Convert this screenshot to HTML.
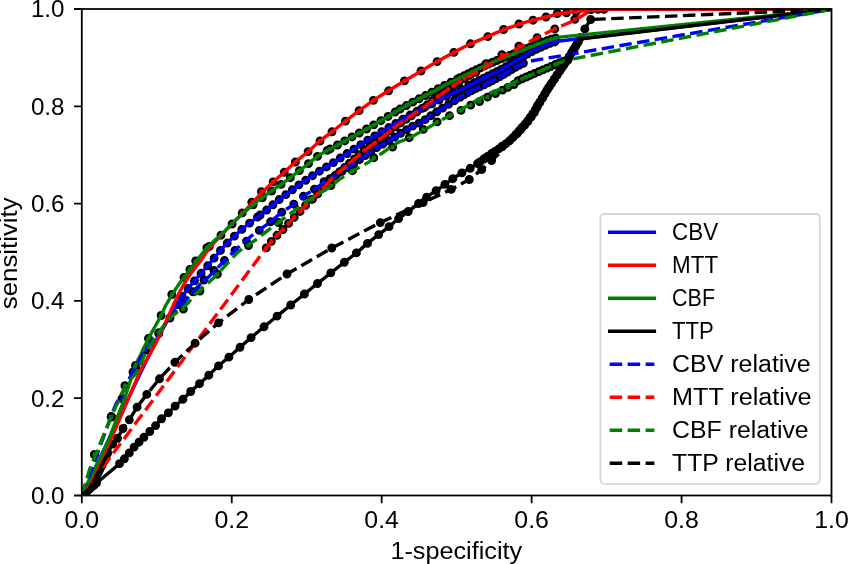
<!DOCTYPE html>
<html><head><meta charset="utf-8"><style>
html,body{margin:0;padding:0;background:#fff;overflow:hidden}
svg{display:block;font-family:"Liberation Sans",sans-serif;will-change:transform}
</style></head><body>
<svg width="848" height="564" viewBox="0 0 848 564">
<rect width="848" height="564" fill="#fff"/>
<defs><clipPath id="ax"><rect x="81.8" y="8.7" width="749.7" height="486.8"/></clipPath></defs>
<g clip-path="url(#ax)">
<g stroke="#000" stroke-width="2.22"><g fill="#0000ff"><circle cx="176.66" cy="304.91" r="3.34"/><circle cx="182.13" cy="296.54" r="3.34"/><circle cx="188.12" cy="288.53" r="3.34"/><circle cx="194.5" cy="280.83" r="3.34"/><circle cx="201.05" cy="273.28" r="3.34"/><circle cx="207.67" cy="265.78" r="3.34"/><circle cx="214.12" cy="258.14" r="3.34"/><circle cx="220.48" cy="250.43" r="3.34"/><circle cx="227.23" cy="243.05" r="3.34"/><circle cx="234.43" cy="236.11" r="3.34"/><circle cx="241.84" cy="229.4" r="3.34"/><circle cx="249.59" cy="223.08" r="3.34"/><circle cx="257.54" cy="217.01" r="3.34"/><circle cx="260.12" cy="215.04" r="3.34"/><circle cx="266.62" cy="210.04" r="3.34"/><circle cx="272.94" cy="204.82" r="3.34"/><circle cx="279.22" cy="199.55" r="3.34"/><circle cx="285.79" cy="194.64" r="3.34"/><circle cx="292.37" cy="189.75" r="3.34"/><circle cx="298.95" cy="184.86" r="3.34"/><circle cx="305.74" cy="180.27" r="3.34"/><circle cx="312.55" cy="175.69" r="3.34"/><circle cx="319.43" cy="171.22" r="3.34"/><circle cx="326.43" cy="166.96" r="3.34"/><circle cx="333.36" cy="162.58" r="3.34"/><circle cx="340.21" cy="158.07" r="3.34"/><circle cx="347.06" cy="153.57" r="3.34"/><circle cx="353.94" cy="149.11" r="3.34"/><circle cx="360.83" cy="144.66" r="3.34"/><circle cx="367.74" cy="140.24" r="3.34"/><circle cx="374.74" cy="135.97" r="3.34"/><circle cx="381.77" cy="131.74" r="3.34"/><circle cx="388.82" cy="127.56" r="3.34"/><circle cx="395.85" cy="123.35" r="3.34"/><circle cx="402.9" cy="119.16" r="3.34"/><circle cx="410.01" cy="115.06" r="3.34"/><circle cx="417.22" cy="111.16" r="3.34"/><circle cx="424.52" cy="107.43" r="3.34"/><circle cx="431.86" cy="103.77" r="3.34"/><circle cx="439.15" cy="100.03" r="3.34"/><circle cx="446.52" cy="96.42" r="3.34"/><circle cx="453.89" cy="92.84" r="3.34"/><circle cx="461.27" cy="89.25" r="3.34"/><circle cx="468.64" cy="85.66" r="3.34"/><circle cx="470.21" cy="84.89" r="3.34"/><circle cx="474.69" cy="82.67" r="3.34"/><circle cx="479.16" cy="80.42" r="3.34"/><circle cx="483.64" cy="78.2" r="3.34"/><circle cx="488.12" cy="75.98" r="3.34"/><circle cx="492.59" cy="73.75" r="3.34"/><circle cx="497.06" cy="71.51" r="3.34"/><circle cx="501.5" cy="69.21" r="3.34"/><circle cx="505.88" cy="66.79" r="3.34"/><circle cx="510.21" cy="64.29" r="3.34"/><circle cx="514.52" cy="61.77" r="3.34"/><circle cx="518.82" cy="59.21" r="3.34"/><circle cx="523.12" cy="56.65" r="3.34"/><circle cx="527.37" cy="54.02" r="3.34"/><circle cx="531.74" cy="51.59" r="3.34"/><circle cx="536.23" cy="49.39" r="3.34"/><circle cx="540.76" cy="47.28" r="3.34"/><circle cx="545.33" cy="45.25" r="3.34"/><circle cx="549.97" cy="43.4" r="3.34"/><circle cx="554.75" cy="41.93" r="3.34"/></g><g fill="#ff0000"><circle cx="209.3" cy="246.4" r="3.34"/><circle cx="221" cy="235.2" r="3.34"/><circle cx="232.1" cy="224" r="3.34"/><circle cx="242.2" cy="212.9" r="3.34"/><circle cx="251.8" cy="202.2" r="3.34"/><circle cx="261.4" cy="191.6" r="3.34"/><circle cx="273.1" cy="181.9" r="3.34"/><circle cx="284.2" cy="172.3" r="3.34"/><circle cx="295.4" cy="162" r="3.34"/><circle cx="308.1" cy="151.6" r="3.34"/><circle cx="320" cy="141" r="3.34"/><circle cx="332" cy="131.8" r="3.34"/><circle cx="345.5" cy="121.1" r="3.34"/><circle cx="359.1" cy="110.7" r="3.34"/><circle cx="373.4" cy="100.4" r="3.34"/><circle cx="388.6" cy="90.8" r="3.34"/><circle cx="404.4" cy="80.9" r="3.34"/><circle cx="421" cy="71" r="3.34"/><circle cx="437.1" cy="61.6" r="3.34"/><circle cx="453.9" cy="52.4" r="3.34"/><circle cx="470.5" cy="43.8" r="3.34"/><circle cx="487.8" cy="36.6" r="3.34"/><circle cx="503.6" cy="29.5" r="3.34"/><circle cx="519" cy="24" r="3.34"/><circle cx="533" cy="20.2" r="3.34"/><circle cx="546" cy="17" r="3.34"/><circle cx="557.3" cy="13.5" r="3.34"/><circle cx="566.5" cy="12.8" r="3.34"/><circle cx="576.2" cy="11.8" r="3.34"/><circle cx="591" cy="9.5" r="3.34"/><circle cx="598" cy="9.3" r="3.34"/><circle cx="604" cy="9.3" r="3.34"/></g><g fill="#008000"><circle cx="111.6" cy="417" r="3.34"/><circle cx="124.9" cy="385.7" r="3.34"/><circle cx="135.5" cy="365.5" r="3.34"/><circle cx="148.5" cy="338.5" r="3.34"/><circle cx="161.1" cy="315.5" r="3.34"/><circle cx="171.8" cy="294.5" r="3.34"/><circle cx="184" cy="277.4" r="3.34"/><circle cx="189.9" cy="269.5" r="3.34"/><circle cx="195.7" cy="261" r="3.34"/><circle cx="206.9" cy="247.7" r="3.34"/><circle cx="253.12" cy="204.74" r="3.34"/><circle cx="262.27" cy="197.77" r="3.34"/><circle cx="271.6" cy="191.05" r="3.34"/><circle cx="280.99" cy="184.41" r="3.34"/><circle cx="290.32" cy="177.68" r="3.34"/><circle cx="299.37" cy="170.6" r="3.34"/><circle cx="308.5" cy="163.61" r="3.34"/><circle cx="317.47" cy="156.41" r="3.34"/><circle cx="327.26" cy="150.41" r="3.34"/><circle cx="330.14" cy="148.9" r="3.34"/><circle cx="337.46" cy="144.99" r="3.34"/><circle cx="344.72" cy="140.97" r="3.34"/><circle cx="351.99" cy="136.95" r="3.34"/><circle cx="359.28" cy="132.99" r="3.34"/><circle cx="366.55" cy="128.99" r="3.34"/><circle cx="373.77" cy="124.9" r="3.34"/><circle cx="380.94" cy="120.72" r="3.34"/><circle cx="388.05" cy="116.43" r="3.34"/><circle cx="395.1" cy="112.05" r="3.34"/><circle cx="400.07" cy="109.06" r="3.34"/><circle cx="406.35" cy="105.54" r="3.34"/><circle cx="412.7" cy="102.14" r="3.34"/><circle cx="419.08" cy="98.8" r="3.34"/><circle cx="425.5" cy="95.55" r="3.34"/><circle cx="431.87" cy="92.2" r="3.34"/><circle cx="438.2" cy="88.76" r="3.34"/><circle cx="444.58" cy="85.43" r="3.34"/><circle cx="451.01" cy="82.18" r="3.34"/><circle cx="457.45" cy="78.97" r="3.34"/><circle cx="460.1" cy="77.67" r="3.34"/><circle cx="464.14" cy="75.68" r="3.34"/><circle cx="468.18" cy="73.71" r="3.34"/><circle cx="472.23" cy="71.75" r="3.34"/><circle cx="476.29" cy="69.8" r="3.34"/><circle cx="480.35" cy="67.86" r="3.34"/><circle cx="484.41" cy="65.93" r="3.34"/><circle cx="488.5" cy="64.05" r="3.34"/><circle cx="492.62" cy="62.24" r="3.34"/><circle cx="496.79" cy="60.54" r="3.34"/><circle cx="500.97" cy="58.87" r="3.34"/><circle cx="505.14" cy="57.19" r="3.34"/><circle cx="509.32" cy="55.52" r="3.34"/><circle cx="513.49" cy="53.83" r="3.34"/><circle cx="517.64" cy="52.1" r="3.34"/><circle cx="521.8" cy="50.37" r="3.34"/><circle cx="525.97" cy="48.69" r="3.34"/><circle cx="530.17" cy="47.06" r="3.34"/><circle cx="534.37" cy="45.45" r="3.34"/><circle cx="538.57" cy="43.84" r="3.34"/><circle cx="542.78" cy="42.25" r="3.34"/><circle cx="547" cy="40.69" r="3.34"/><circle cx="551.26" cy="39.24" r="3.34"/><circle cx="555.56" cy="37.92" r="3.34"/></g><g fill="#000000"><circle cx="119.5" cy="463.7" r="3.34"/><circle cx="124.4" cy="458.8" r="3.34"/><circle cx="129.3" cy="452.9" r="3.34"/><circle cx="134.1" cy="447.1" r="3.34"/><circle cx="139" cy="442.2" r="3.34"/><circle cx="143.9" cy="437.3" r="3.34"/><circle cx="149.8" cy="431.5" r="3.34"/><circle cx="155.6" cy="425.6" r="3.34"/><circle cx="161.5" cy="418.8" r="3.34"/><circle cx="168.3" cy="412.9" r="3.34"/><circle cx="175.1" cy="406.1" r="3.34"/><circle cx="182.9" cy="399.3" r="3.34"/><circle cx="190.7" cy="391.5" r="3.34"/><circle cx="199.5" cy="383.7" r="3.34"/><circle cx="208.8" cy="375.2" r="3.34"/><circle cx="218.5" cy="365.9" r="3.34"/><circle cx="228.9" cy="357.1" r="3.34"/><circle cx="240" cy="347.3" r="3.34"/><circle cx="251.1" cy="337.6" r="3.34"/><circle cx="264" cy="326.8" r="3.34"/><circle cx="277.1" cy="316.1" r="3.34"/><circle cx="290.7" cy="305" r="3.34"/><circle cx="304.4" cy="294" r="3.34"/><circle cx="317.5" cy="283.5" r="3.34"/><circle cx="330.8" cy="272.9" r="3.34"/><circle cx="344.3" cy="262.3" r="3.34"/><circle cx="356.4" cy="252.9" r="3.34"/><circle cx="367.5" cy="243.4" r="3.34"/><circle cx="378.7" cy="234.6" r="3.34"/><circle cx="389.1" cy="226.6" r="3.34"/><circle cx="398.6" cy="218.6" r="3.34"/><circle cx="408.2" cy="211.5" r="3.34"/><circle cx="418.6" cy="203.5" r="3.34"/><circle cx="426.6" cy="197.1" r="3.34"/><circle cx="436.1" cy="190.7" r="3.34"/><circle cx="444.9" cy="184.4" r="3.34"/><circle cx="452.8" cy="178.7" r="3.34"/><circle cx="461.9" cy="172.9" r="3.34"/><circle cx="470.2" cy="168.3" r="3.34"/><circle cx="477.6" cy="163.5" r="3.34"/><circle cx="485" cy="158.2" r="3.34"/><circle cx="492" cy="153.5" r="3.34"/><circle cx="502" cy="146.5" r="3.34"/><circle cx="480.2" cy="161.66" r="3.34"/><circle cx="483.85" cy="159.02" r="3.34"/><circle cx="487.56" cy="156.47" r="3.34"/><circle cx="491.3" cy="153.97" r="3.34"/><circle cx="495.01" cy="151.43" r="3.34"/><circle cx="498.71" cy="148.86" r="3.34"/><circle cx="502.36" cy="146.24" r="3.34"/><circle cx="506" cy="143.58" r="3.34"/><circle cx="509.52" cy="140.79" r="3.34"/><circle cx="512.81" cy="137.72" r="3.34"/><circle cx="515.88" cy="134.44" r="3.34"/><circle cx="518.87" cy="131.07" r="3.34"/><circle cx="521.86" cy="127.71" r="3.34"/><circle cx="524.81" cy="124.31" r="3.34"/><circle cx="527.64" cy="120.81" r="3.34"/><circle cx="530.3" cy="117.18" r="3.34"/><circle cx="532.86" cy="113.48" r="3.34"/><circle cx="535.29" cy="109.69" r="3.34"/><circle cx="537.38" cy="105.71" r="3.34"/><circle cx="539.88" cy="101.97" r="3.34"/><circle cx="542.29" cy="98.17" r="3.34"/><circle cx="544.55" cy="94.28" r="3.34"/><circle cx="546.85" cy="90.41" r="3.34"/><circle cx="549.3" cy="86.64" r="3.34"/><circle cx="551.83" cy="82.92" r="3.34"/><circle cx="554.34" cy="79.18" r="3.34"/><circle cx="556.82" cy="75.42" r="3.34"/><circle cx="559.29" cy="71.67" r="3.34"/><circle cx="561.81" cy="67.93" r="3.34"/><circle cx="564.36" cy="64.23" r="3.34"/><circle cx="566.87" cy="60.5" r="3.34"/><circle cx="569.24" cy="56.67" r="3.34"/><circle cx="571.53" cy="52.8" r="3.34"/><circle cx="573.88" cy="48.96" r="3.34"/><circle cx="576.22" cy="45.12" r="3.34"/><circle cx="578.46" cy="41.21" r="3.34"/><circle cx="85.05" cy="492.76" r="3.34"/><circle cx="87.34" cy="490.83" r="3.34"/><circle cx="89.63" cy="488.89" r="3.34"/><circle cx="91.93" cy="486.96" r="3.34"/><circle cx="94.22" cy="485.02" r="3.34"/><circle cx="96.51" cy="483.09" r="3.34"/></g><g fill="#0000ff"><circle cx="94.4" cy="454.6" r="3.34"/><circle cx="111.2" cy="416.7" r="3.34"/><circle cx="122" cy="398.7" r="3.34"/><circle cx="133" cy="372" r="3.34"/><circle cx="145.9" cy="350" r="3.34"/><circle cx="158.7" cy="333.5" r="3.34"/><circle cx="170" cy="318" r="3.34"/><circle cx="182.3" cy="303.5" r="3.34"/><circle cx="193" cy="291.8" r="3.34"/><circle cx="204" cy="280" r="3.34"/><circle cx="214" cy="270.5" r="3.34"/><circle cx="224.5" cy="260.5" r="3.34"/><circle cx="235" cy="250.5" r="3.34"/><circle cx="246.5" cy="241.1" r="3.34"/><circle cx="259.3" cy="230.4" r="3.34"/><circle cx="270.6" cy="221.8" r="3.34"/><circle cx="281.8" cy="212.2" r="3.34"/><circle cx="293.8" cy="204.2" r="3.34"/><circle cx="303.4" cy="196.3" r="3.34"/><circle cx="314.5" cy="189.1" r="3.34"/><circle cx="324.1" cy="181.6" r="3.34"/><circle cx="330.02" cy="178.63" r="3.34"/><circle cx="336.01" cy="175.02" r="3.34"/><circle cx="341.96" cy="171.33" r="3.34"/><circle cx="347.88" cy="167.59" r="3.34"/><circle cx="353.73" cy="163.75" r="3.34"/><circle cx="359.42" cy="159.68" r="3.34"/><circle cx="365.09" cy="155.57" r="3.34"/><circle cx="370.79" cy="151.51" r="3.34"/><circle cx="376.62" cy="147.63" r="3.34"/><circle cx="382.73" cy="144.21" r="3.34"/><circle cx="388.86" cy="140.84" r="3.34"/><circle cx="394.77" cy="137.09" r="3.34"/><circle cx="400.66" cy="133.3" r="3.34"/><circle cx="406.61" cy="129.62" r="3.34"/><circle cx="412.66" cy="126.11" r="3.34"/><circle cx="418.98" cy="123.09" r="3.34"/><circle cx="425.06" cy="119.65" r="3.34"/><circle cx="430.85" cy="115.71" r="3.34"/><circle cx="436.67" cy="111.82" r="3.34"/><circle cx="442.59" cy="108.08" r="3.34"/><circle cx="448.54" cy="104.4" r="3.34"/><circle cx="454.49" cy="100.71" r="3.34"/><circle cx="460.01" cy="97.29" r="3.34"/><circle cx="463.86" cy="94.95" r="3.34"/><circle cx="467.75" cy="92.69" r="3.34"/><circle cx="471.7" cy="90.54" r="3.34"/><circle cx="475.74" cy="88.56" r="3.34"/><circle cx="479.85" cy="86.72" r="3.34"/><circle cx="483.95" cy="84.87" r="3.34"/><circle cx="487.99" cy="82.88" r="3.34"/><circle cx="491.98" cy="80.81" r="3.34"/><circle cx="495.95" cy="78.69" r="3.34"/><circle cx="499.89" cy="76.52" r="3.34"/><circle cx="503.8" cy="74.29" r="3.34"/><circle cx="507.67" cy="71.99" r="3.34"/><circle cx="511.51" cy="69.65" r="3.34"/><circle cx="515.38" cy="67.35" r="3.34"/><circle cx="519.32" cy="65.18" r="3.34"/><circle cx="523.39" cy="63.27" r="3.34"/></g><g fill="#ff0000"><circle cx="486" cy="63.7" r="3.34"/><circle cx="501.9" cy="54.7" r="3.34"/><circle cx="518.9" cy="46.2" r="3.34"/><circle cx="537.1" cy="37.7" r="3.34"/><circle cx="554.8" cy="28.9" r="3.34"/><circle cx="574.8" cy="19.3" r="3.34"/><circle cx="266.27" cy="247.91" r="3.34"/><circle cx="271.32" cy="241.33" r="3.34"/><circle cx="277.03" cy="235.32" r="3.34"/><circle cx="282.95" cy="229.5" r="3.34"/><circle cx="288.57" cy="223.4" r="3.34"/><circle cx="294.21" cy="217.32" r="3.34"/><circle cx="300.05" cy="211.43" r="3.34"/><circle cx="305.64" cy="205.29" r="3.34"/><circle cx="311.46" cy="199.38" r="3.34"/><circle cx="317.74" cy="193.96" r="3.34"/><circle cx="323.44" cy="187.93" r="3.34"/><circle cx="328.93" cy="181.71" r="3.34"/><circle cx="330.1" cy="180.47" r="3.34"/><circle cx="334.77" cy="175.96" r="3.34"/><circle cx="339.69" cy="171.71" r="3.34"/><circle cx="344.62" cy="167.47" r="3.34"/><circle cx="349.52" cy="163.2" r="3.34"/><circle cx="354.43" cy="158.95" r="3.34"/><circle cx="359.37" cy="154.72" r="3.34"/><circle cx="364.36" cy="150.55" r="3.34"/><circle cx="369.56" cy="146.65" r="3.34"/><circle cx="374.86" cy="142.9" r="3.34"/><circle cx="380.01" cy="138.93" r="3.34"/><circle cx="385.12" cy="134.92" r="3.34"/><circle cx="390.16" cy="130.81" r="3.34"/><circle cx="395.23" cy="126.75" r="3.34"/><circle cx="400.52" cy="122.96" r="3.34"/><circle cx="405.96" cy="119.42" r="3.34"/><circle cx="411.37" cy="115.8" r="3.34"/><circle cx="416.63" cy="112" r="3.34"/><circle cx="422.05" cy="108.41" r="3.34"/><circle cx="427.42" cy="104.74" r="3.34"/><circle cx="432.58" cy="100.79" r="3.34"/><circle cx="437.69" cy="96.78" r="3.34"/><circle cx="442.91" cy="92.9" r="3.34"/><circle cx="448.26" cy="89.21" r="3.34"/><circle cx="453.63" cy="85.56" r="3.34"/><circle cx="459.06" cy="81.99" r="3.34"/><circle cx="464.57" cy="78.54" r="3.34"/><circle cx="470.2" cy="75.29" r="3.34"/><circle cx="475.96" cy="72.27" r="3.34"/></g><g fill="#008000"><circle cx="94.4" cy="454.6" r="3.34"/><circle cx="111.2" cy="416.7" r="3.34"/><circle cx="137.7" cy="370.9" r="3.34"/><circle cx="158.9" cy="332.6" r="3.34"/><circle cx="183.4" cy="309.1" r="3.34"/><circle cx="199.9" cy="291" r="3.34"/><circle cx="217.4" cy="274.2" r="3.34"/><circle cx="248.5" cy="245.5" r="3.34"/><circle cx="278.4" cy="222.5" r="3.34"/><circle cx="312.5" cy="199.1" r="3.34"/><circle cx="330.9" cy="185.6" r="3.34"/><circle cx="352.5" cy="170.7" r="3.34"/><circle cx="373.8" cy="157.7" r="3.34"/><circle cx="392.6" cy="147.1" r="3.34"/><circle cx="409.2" cy="137.7" r="3.34"/><circle cx="423.3" cy="129.4" r="3.34"/><circle cx="437.1" cy="121.9" r="3.34"/><circle cx="449.5" cy="115.7" r="3.34"/><circle cx="461" cy="110.4" r="3.34"/><circle cx="470.7" cy="105.1" r="3.34"/><circle cx="479.5" cy="101.6" r="3.34"/><circle cx="487.5" cy="97.1" r="3.34"/><circle cx="495.5" cy="93.6" r="3.34"/><circle cx="502.5" cy="90.1" r="3.34"/><circle cx="507.8" cy="87.4" r="3.34"/><circle cx="514" cy="84.5" r="3.34"/><circle cx="518.09" cy="80.61" r="3.34"/><circle cx="522.2" cy="78.78" r="3.34"/><circle cx="526.32" cy="76.98" r="3.34"/><circle cx="530.46" cy="75.2" r="3.34"/><circle cx="534.59" cy="73.43" r="3.34"/><circle cx="538.73" cy="71.67" r="3.34"/><circle cx="542.87" cy="69.9" r="3.34"/><circle cx="547.01" cy="68.14" r="3.34"/><circle cx="551.14" cy="66.34" r="3.34"/><circle cx="555.26" cy="64.53" r="3.34"/><circle cx="559.4" cy="62.78" r="3.34"/><circle cx="563.64" cy="61.26" r="3.34"/><circle cx="567.96" cy="60.01" r="3.34"/></g><g fill="#000000"><circle cx="89" cy="489" r="3.34"/><circle cx="95.5" cy="478" r="3.34"/><circle cx="101.5" cy="466" r="3.34"/><circle cx="107.8" cy="452.9" r="3.34"/><circle cx="112.7" cy="444.1" r="3.34"/><circle cx="117.6" cy="438.3" r="3.34"/><circle cx="123" cy="428.5" r="3.34"/><circle cx="129.3" cy="419.8" r="3.34"/><circle cx="137.1" cy="407.1" r="3.34"/><circle cx="146.8" cy="394.4" r="3.34"/><circle cx="159.5" cy="378.8" r="3.34"/><circle cx="174.9" cy="362.3" r="3.34"/><circle cx="195.1" cy="343.2" r="3.34"/><circle cx="218.5" cy="322.9" r="3.34"/><circle cx="248.8" cy="299.5" r="3.34"/><circle cx="287" cy="274" r="3.34"/><circle cx="331.8" cy="248" r="3.34"/><circle cx="380.3" cy="222.6" r="3.34"/><circle cx="423.1" cy="202.6" r="3.34"/><circle cx="451.2" cy="189.4" r="3.34"/><circle cx="469.3" cy="179.5" r="3.34"/><circle cx="481.7" cy="169.6" r="3.34"/><circle cx="491.6" cy="160.5" r="3.34"/><circle cx="584.8" cy="28.9" r="3.34"/><circle cx="590.7" cy="19.5" r="3.34"/><circle cx="84.03" cy="493.49" r="3.34"/><circle cx="85.66" cy="492.02" r="3.34"/><circle cx="87.29" cy="490.54" r="3.34"/><circle cx="88.93" cy="489.07" r="3.34"/><circle cx="90.07" cy="487.19" r="3.34"/><circle cx="91.19" cy="485.3" r="3.34"/><circle cx="92.31" cy="483.4" r="3.34"/><circle cx="93.43" cy="481.51" r="3.34"/><circle cx="94.55" cy="479.62" r="3.34"/><circle cx="95.64" cy="477.71" r="3.34"/><circle cx="96.63" cy="475.74" r="3.34"/><circle cx="97.61" cy="473.78" r="3.34"/><circle cx="98.6" cy="471.81" r="3.34"/><circle cx="99.58" cy="469.84" r="3.34"/><circle cx="100.56" cy="467.87" r="3.34"/><circle cx="101.55" cy="465.9" r="3.34"/><circle cx="102.5" cy="463.92" r="3.34"/><circle cx="103.45" cy="461.94" r="3.34"/><circle cx="104.41" cy="459.96" r="3.34"/><circle cx="105.36" cy="457.97" r="3.34"/><circle cx="106.31" cy="455.99" r="3.34"/><circle cx="517.14" cy="133.62" r="3.34"/><circle cx="520.81" cy="129.53" r="3.34"/><circle cx="524.46" cy="125.42" r="3.34"/><circle cx="528.04" cy="121.24" r="3.34"/><circle cx="531.26" cy="116.78" r="3.34"/><circle cx="534.47" cy="112.32" r="3.34"/><circle cx="536.98" cy="107.43" r="3.34"/><circle cx="539.74" cy="102.68" r="3.34"/><circle cx="542.56" cy="97.96" r="3.34"/><circle cx="545.25" cy="93.16" r="3.34"/><circle cx="548.03" cy="88.41" r="3.34"/><circle cx="551.09" cy="83.85" r="3.34"/><circle cx="554.15" cy="79.27" r="3.34"/><circle cx="557.18" cy="74.68" r="3.34"/><circle cx="560.21" cy="70.09" r="3.34"/><circle cx="563.29" cy="65.54" r="3.34"/><circle cx="566.39" cy="60.99" r="3.34"/><circle cx="569.39" cy="56.38" r="3.34"/><circle cx="572.34" cy="51.75" r="3.34"/><circle cx="575.18" cy="47.03" r="3.34"/><circle cx="577.92" cy="42.27" r="3.34"/><circle cx="580.51" cy="37.42" r="3.34"/></g></g>
<g fill="none" stroke-width="3.39" stroke-linejoin="round"><path d="M81.8 495.5 118.5 420 127.5 400 157.8 337.3 161.37 331.1 166.54 322.11 172.04 312.64 176.6 305 179.82 299.92 182.41 296.13 184.74 292.95 187.2 289.7 189.84 286.35 192.46 283.21 195.12 280.11 197.9 276.9 200.8 273.56 203.8 270.18 206.87 266.71 210 263.1 213.26 259.19 216.64 255.05 219.98 251.01 223.1 247.4 225.92 244.37 228.55 241.72 231.1 239.26 233.7 236.8 236.4 234.28 239.12 231.8 241.81 229.42 244.4 227.2 246.82 225.22 249.13 223.43 251.44 221.68 253.9 219.8 256.71 217.64 259.74 215.33 262.62 213.13 265 211.3 266.55 210.1 267.55 209.32 268.5 208.56 269.9 207.4 271.95 205.67 274.36 203.6 276.91 201.43 279.4 199.4 281.79 197.56 284.19 195.8 286.6 194.06 289 192.3 291.4 190.49 293.81 188.66 296.21 186.85 298.6 185.1 300.98 183.44 303.35 181.85 305.72 180.28 308.1 178.7 310.44 177.12 312.75 175.56 315.14 173.96 317.7 172.3 320.57 170.51 323.66 168.64 326.74 166.77 329.6 165 332.14 163.38 334.49 161.84 336.77 160.33 339.1 158.8 341.49 157.23 343.89 155.65 346.3 154.07 348.7 152.5 351.1 150.94 353.51 149.39 355.91 147.84 358.3 146.3 360.62 144.8 362.89 143.33 365.24 141.81 367.8 140.2 370.7 138.42 373.83 136.51 377 134.6 380 132.8 382.76 131.15 385.39 129.59 387.98 128.06 390.6 126.5 393.27 124.9 395.95 123.29 398.63 121.68 401.3 120.1 403.95 118.54 406.6 117 409.25 115.48 411.9 114 414.57 112.56 417.25 111.15 419.93 109.77 422.6 108.4 425.35 107.01 428.14 105.62 430.82 104.29 433.2 103.1 434.98 102.19 436.32 101.47 437.81 100.7 440 99.6 443.17 98.04 446.99 96.19 451.06 94.21 455 92.3 458.85 90.43 462.78 88.53 466.56 86.68 470 85 472.96 83.53 475.57 82.22 478.05 80.98 480.6 79.7 483.27 78.38 485.95 77.06 488.63 75.73 491.3 74.4 493.95 73.07 496.6 71.75 499.25 70.4 501.9 69 504.57 67.53 507.25 66.01 509.93 64.46 512.6 62.9 515.3 61.31 518.03 59.69 520.69 58.1 523.2 56.6 525.34 55.29 527.22 54.11 529.26 52.9 531.9 51.5 535.52 49.73 539.79 47.72 544.1 45.77 547.8 44.2 550.87 43.08 553.59 42.24 555.82 41.64 557.4 41.2 831.5 9.3" stroke="#0000ff" stroke-linecap="square"/><path d="M81.8 495.5 96 470 98.74 464.38 102.71 456.25 106.94 447.5 110.5 440 113.08 434.3 115.21 429.38 117.16 424.77 119.2 420 121.28 415.22 123.31 410.59 125.45 405.67 127.9 400 130.87 392.95 134.21 384.93 137.54 377.07 140.5 370.5 142.88 365.89 144.91 362.51 146.88 359.4 149.1 355.6 151.6 351 154.25 346.08 157.05 340.68 160 334.7 163.31 327.56 166.91 319.5 170.41 311.62 173.4 305 175.72 300.05 177.59 296.16 179.25 292.86 180.9 289.7 182.53 286.7 184.05 284.06 185.57 281.56 187.2 279 188.99 276.32 190.88 273.63 192.8 270.98 194.7 268.4 196.57 265.95 198.44 263.58 200.29 261.23 202.1 258.8 203.74 256.34 205.26 253.86 206.93 251.28 209 248.5 211.66 245.4 214.74 242.07 217.95 238.71 221 235.5 223.82 232.51 226.56 229.64 229.27 226.83 232 224 234.79 221.14 237.59 218.27 240.36 215.44 243 212.7 245.47 210.07 247.81 207.54 250.12 205.03 252.5 202.5 254.95 199.93 257.43 197.36 259.95 194.78 262.5 192.2 265.1 189.61 267.73 187.01 270.4 184.43 273.1 181.9 275.84 179.47 278.61 177.1 281.41 174.73 284.2 172.3 286.96 169.78 289.7 167.2 292.49 164.6 295.4 162 298.49 159.41 301.71 156.82 304.95 154.22 308.1 151.6 311.13 148.93 314.09 146.22 317.04 143.56 320 141 322.96 138.64 325.9 136.41 328.89 134.17 332 131.8 335.27 129.22 338.65 126.53 342.08 123.79 345.5 121.1 348.88 118.48 352.25 115.87 355.65 113.29 359.1 110.7 362.6 108.11 366.14 105.51 369.73 102.94 373.4 100.4 377.17 97.91 381.02 95.46 384.91 93.03 388.8 90.6 392.66 88.17 396.51 85.75 400.41 83.33 404.4 80.9 408.54 78.45 412.78 75.99 417.04 73.54 421.2 71.1 425.22 68.67 429.15 66.26 433.08 63.86 437.1 61.5 441.22 59.19 445.4 56.91 449.63 54.65 453.9 52.4 458.25 50.11 462.67 47.81 467.09 45.58 471.4 43.5 475.68 41.6 479.93 39.83 484.02 38.17 487.8 36.6 491.02 35.17 493.83 33.87 496.68 32.59 500 31.2 504.07 29.62 508.61 27.93 513.21 26.28 517.5 24.8 521.36 23.55 524.99 22.46 528.51 21.46 532 20.5 535.51 19.6 538.99 18.77 542.37 17.98 545.6 17.2 548.67 16.4 551.61 15.6 554.41 14.85 557.1 14.2 559.59 13.66 561.91 13.22 564.19 12.84 566.6 12.5 569.2 12.22 571.91 12.01 574.61 11.81 577.2 11.6 579.63 11.35 581.98 11.09 584.28 10.84 586.6 10.6 588.89 10.38 591.14 10.17 593.47 9.97 596 9.8 599.1 9.64 602.59 9.5 605.78 9.38 608 9.3 831.5 9.3" stroke="#ff0000" stroke-linecap="square"/><path d="M81.8 495.5 94.2 470 96.88 464.38 100.76 456.25 104.88 447.5 108.3 440 110.71 434.3 112.64 429.38 114.38 424.77 116.2 420 118.21 414.93 120.24 409.81 122.2 404.79 124 400 125.57 395.55 126.97 391.34 128.32 387.21 129.7 383 131.14 378.54 132.58 373.97 134.03 369.54 135.5 365.5 136.96 362.07 138.43 359.06 139.92 356.15 141.5 353 143.24 349.38 145.09 345.5 146.9 341.75 148.5 338.5 149.74 336.09 150.74 334.25 151.77 332.41 153.1 330 154.93 326.7 157.08 322.88 159.24 318.98 161.1 315.5 162.41 312.76 163.39 310.43 164.45 308.02 166 305 168.3 301 171.07 296.38 173.96 291.71 176.6 287.6 178.85 284.3 180.91 281.46 182.95 278.77 185.1 275.9 187.45 272.73 189.9 269.44 192.35 266.18 194.7 263.1 196.95 260.2 199.15 257.41 201.25 254.79 203.2 252.4 204.83 250.39 206.22 248.68 207.7 246.98 209.6 245 212.09 242.66 214.97 240.12 218.01 237.44 221 234.7 223.9 231.85 226.83 228.88 229.77 225.89 232.7 223 235.65 220.22 238.62 217.49 241.55 214.84 244.4 212.3 247.14 209.87 249.81 207.54 252.42 205.32 255 203.2 257.5 201.26 259.91 199.47 262.37 197.69 265 195.8 267.89 193.71 270.95 191.51 274.04 189.31 277 187.2 279.82 185.22 282.58 183.31 285.24 181.45 287.8 179.6 290.2 177.78 292.46 175.99 294.69 174.21 297 172.4 299.35 170.61 301.71 168.84 304.18 166.98 306.9 164.9 309.88 162.49 313.07 159.83 316.45 157.14 320 154.6 323.8 152.29 327.82 150.11 331.94 147.96 336 145.8 339.98 143.6 343.96 141.39 347.93 139.19 351.9 137 355.88 134.83 359.86 132.67 363.84 130.5 367.8 128.3 371.71 126.08 375.58 123.86 379.49 121.58 383.5 119.2 387.69 116.64 392.01 113.96 396.32 111.29 400.5 108.8 404.55 106.51 408.53 104.35 412.37 102.31 416 100.4 419.31 98.68 422.38 97.13 425.38 95.61 428.5 94 431.73 92.27 434.99 90.5 438.35 88.67 441.9 86.8 445.7 84.85 449.69 82.84 453.76 80.8 457.8 78.8 461.8 76.83 465.8 74.87 469.8 72.92 473.8 71 477.87 69.05 481.99 67.08 485.99 65.19 489.7 63.5 493.05 62.06 496.12 60.8 499.04 59.64 501.9 58.5 504.68 57.38 507.35 56.31 509.97 55.27 512.6 54.2 515.3 53.08 518.03 51.94 520.69 50.83 523.2 49.8 525.34 48.94 527.22 48.2 529.26 47.41 531.9 46.4 535.52 45.01 539.8 43.38 544.11 41.75 547.8 40.4 550.85 39.37 553.54 38.52 555.74 37.87 557.3 37.4 831.5 9.3" stroke="#008000" stroke-linecap="square"/><path d="M81.8 495.5 119.5 463.7 120.38 462.84 121.64 461.62 123.06 460.21 124.4 458.8 125.63 457.39 126.86 455.91 128.08 454.39 129.3 452.9 130.5 451.42 131.7 449.94 132.9 448.48 134.1 447.1 135.32 445.81 136.54 444.59 137.77 443.4 139 442.2 140.2 441 141.39 439.81 142.6 438.59 143.9 437.3 145.31 435.92 146.79 434.46 148.31 432.98 149.8 431.5 151.25 430.05 152.7 428.61 154.15 427.14 155.6 425.6 157.05 423.94 158.49 422.2 159.96 420.46 161.5 418.8 163.14 417.28 164.84 415.85 166.58 414.42 168.3 412.9 169.98 411.26 171.64 409.56 173.33 407.82 175.1 406.1 176.98 404.42 178.94 402.76 180.93 401.07 182.9 399.3 184.83 397.42 186.74 395.46 188.68 393.47 190.7 391.5 192.82 389.57 195.01 387.64 197.24 385.7 199.5 383.7 201.78 381.64 204.09 379.54 206.44 377.4 208.8 375.2 211.18 372.92 213.58 370.57 216.02 368.21 218.5 365.9 221.03 363.69 223.61 361.53 226.23 359.36 228.9 357.1 231.63 354.72 234.41 352.26 237.21 349.77 240 347.3 242.73 344.89 245.44 342.51 248.2 340.1 251.1 337.6 254.19 334.98 257.43 332.26 260.72 329.52 264 326.8 267.25 324.13 270.51 321.47 273.79 318.8 277.1 316.1 280.46 313.35 283.86 310.57 287.28 307.78 290.7 305 294.13 302.23 297.58 299.46 301.01 296.71 304.4 294 307.71 291.34 310.97 288.72 314.22 286.12 317.5 283.5 320.81 280.86 324.12 278.21 327.46 275.55 330.8 272.9 334.19 270.22 337.62 267.52 341.02 264.87 344.3 262.3 347.45 259.87 350.5 257.53 353.48 255.23 356.4 252.9 359.24 250.52 362.01 248.11 364.74 245.73 367.5 243.4 370.31 241.13 373.14 238.91 375.95 236.73 378.7 234.6 381.38 232.54 384.01 230.55 386.58 228.58 389.1 226.6 391.54 224.58 393.9 222.54 396.24 220.54 398.6 218.6 400.97 216.78 403.34 215.05 405.74 213.32 408.2 211.5 410.8 209.53 413.5 207.46 416.15 205.41 418.6 203.5 420.73 201.79 422.66 200.2 424.55 198.66 426.6 197.1 428.89 195.5 431.3 193.89 433.74 192.29 436.1 190.7 438.37 189.1 440.6 187.51 442.78 185.93 444.9 184.4 446.91 182.94 448.83 181.52 450.76 180.12 452.8 178.7 455.01 177.23 457.32 175.73 459.65 174.27 461.9 172.9 464.05 171.67 466.16 170.54 468.21 169.44 470.2 168.3 472.11 167.13 473.96 165.94 475.77 164.74 477.6 163.5 479.46 162.2 481.33 160.84 483.18 159.49 485 158.2 486.71 157.04 488.34 155.96 490.05 154.82 492 153.5 494.31 151.91 496.88 150.14 499.5 148.3 502 146.5 504.32 144.81 506.56 143.17 508.77 141.44 511 139.5 513.29 137.24 515.59 134.76 517.86 132.23 520 129.8 521.99 127.56 523.88 125.42 525.7 123.26 527.5 121 529.38 118.48 531.28 115.79 533.04 113.21 534.5 111 535.51 109.32 536.19 108 536.77 106.8 537.5 105.5 538.39 104.12 539.34 102.75 540.36 101.26 541.5 99.5 542.76 97.38 544.13 95 545.59 92.49 547.1 90 548.7 87.54 550.39 85.03 552.11 82.51 553.8 80 555.45 77.5 557.09 75 558.74 72.5 560.4 70 562.13 67.45 563.91 64.88 565.64 62.36 567.2 60 568.56 57.82 569.78 55.78 570.9 53.85 572 52 573.06 50.27 574.07 48.66 575.04 47.09 576 45.5 577.03 43.72 578.1 41.84 579.04 40.17 579.7 39 831.5 9.3" stroke="#000000" stroke-linecap="square"/><path d="M81.8 495.5 94.4 462 97.92 452.35 103.04 438.31 108.34 423.87 112.4 413 114.7 407.13 116.04 404.02 116.98 402.15 118.1 400 119.37 397.65 120.56 395.74 121.86 393.63 123.5 390.7 125.53 386.67 127.84 381.91 130.38 376.75 133.1 371.5 136.07 366 139.3 360.15 142.62 354.4 145.9 349.2 149.14 344.74 152.39 340.76 155.61 337 158.7 333.2 161.6 329.32 164.37 325.47 167.13 321.7 170 318 173.09 314.37 176.3 310.81 179.49 307.35 182.5 304 185.35 300.71 188.09 297.49 190.67 294.47 193 291.8 194.94 289.64 196.56 287.87 198.15 286.21 200 284.4 202.18 282.42 204.55 280.39 207.04 278.24 209.6 275.9 212.21 273.33 214.9 270.57 217.69 267.68 220.6 264.7 223.68 261.58 226.89 258.32 230.16 255.05 233.4 251.9 236.59 248.87 239.78 245.91 242.95 243.05 246.1 240.3 249.24 237.69 252.38 235.19 255.48 232.8 258.5 230.5 261.43 228.36 264.28 226.37 267.09 224.39 269.9 222.3 272.66 220.04 275.36 217.69 278.11 215.32 281 213 284.16 210.74 287.49 208.51 290.79 206.32 293.8 204.2 296.39 202.15 298.71 200.15 300.97 198.2 303.4 196.3 306.07 194.47 308.85 192.71 311.68 190.94 314.5 189.1 317.39 187.06 320.35 184.91 323.19 182.84 325.7 181.1 327.48 179.99 328.76 179.3 330.28 178.49 332.8 177 336.92 174.46 342.09 171.24 347.4 167.9 351.9 165 355.22 162.74 357.89 160.81 360.37 158.98 363.1 157 366.21 154.77 369.46 152.44 372.76 150.13 376 148 379.21 146.11 382.41 144.38 385.56 142.71 388.6 141 391.45 139.24 394.18 137.48 396.88 135.7 399.7 133.9 402.71 132.02 405.82 130.09 408.93 128.21 411.9 126.5 414.63 125.1 417.22 123.92 419.82 122.7 422.6 121.2 425.59 119.32 428.7 117.19 431.94 114.95 435.3 112.7 438.71 110.52 442.19 108.33 445.91 106.02 450 103.5 454.72 100.57 459.92 97.34 465.16 94.17 470 91.4 474.28 89.22 478.26 87.43 482.1 85.74 486 83.9 489.98 81.87 493.95 79.78 497.92 77.62 501.9 75.4 506.05 72.97 510.3 70.39 514.35 67.93 517.9 65.9 520.95 64.36 523.65 63.16 525.85 62.25 527.4 61.6" stroke="#0000ff" stroke-dasharray="12.5 5.45" stroke-dashoffset="0.00"/><path d="M527.4 61.6 831.5 9.3" stroke="#0000ff" stroke-dasharray="12.5 5.45" stroke-dashoffset="14.35"/><path d="M81.8 495.5 266.2 248 267.33 246.5 268.95 244.35 270.77 242 272.5 239.9 274.08 238.19 275.66 236.63 277.26 235.1 278.9 233.5 280.62 231.81 282.39 230.07 284.14 228.32 285.8 226.6 287.3 224.92 288.69 223.25 290.09 221.58 291.6 219.9 293.17 218.31 294.77 216.78 296.53 215.09 298.6 213 301.12 210.28 303.99 207.1 306.93 203.87 309.7 201 312.15 198.74 314.45 196.83 316.77 194.87 319.3 192.5 322.09 189.48 325.06 186.07 328.11 182.57 331.2 179.3 334.32 176.36 337.49 173.57 340.7 170.85 343.9 168.1 347.17 165.25 350.49 162.35 353.72 159.55 356.7 157 359.36 154.73 361.81 152.66 364.09 150.76 366.3 149 368.32 147.5 370.15 146.24 372.03 144.96 374.2 143.4 376.76 141.46 379.57 139.28 382.49 136.99 385.4 134.7 388.24 132.4 391.1 130.04 394.01 127.68 397 125.4 400.24 123.14 403.66 120.9 406.95 118.78 409.8 116.9 411.98 115.38 413.7 114.12 415.32 112.93 417.2 111.6 419.45 110.1 421.86 108.53 424.35 106.9 426.8 105.2 429.3 103.35 431.86 101.36 434.29 99.45 436.4 97.8 437.82 96.68 438.76 95.91 439.89 95.04 441.9 93.6 445.23 91.28 449.43 88.4 453.84 85.42 457.8 82.8 460.97 80.76 463.76 79.02 466.62 77.32 470 75.4 474.19 73.18 478.88 70.79 483.66 68.33 488.1 65.9 492.03 63.48 495.69 61.04 499.28 58.63 503 56.3 507.02 54.05 511.19 51.85 515.24 49.75 518.9 47.8 522.11 45.98 525.02 44.29 527.64 42.75 530 41.4 531.74 40.45 532.96 39.82 534.4 39.1 536.8 37.9 540.51 36.01 545.07 33.68 550.06 31.19 555 28.8 560.07 26.54 565.41 24.27 570.55 22.07 575 20 578.65 18 581.76 16.05 584.38 14.33 586.6 13 588.14 12.23 589.07 11.88 589.94 11.69 591.3 11.4 593.39 10.91 595.88 10.36 598.51 9.86 601 9.5 603.51 9.33 606.11 9.28 608.4 9.3 610 9.3 831.5 9.3" stroke="#ff0000" stroke-dasharray="12.5 5.45" stroke-dashoffset="1.30"/><path d="M81.8 495.5 89.4 470 93.64 459.56 99.8 444.39 106.21 428.7 111.2 416.7 114.18 409.94 116.09 406.02 117.56 403.27 119.2 400 121.03 395.88 122.76 391.77 124.59 387.78 126.7 384 129.27 380.65 132.16 377.61 135.06 374.49 137.7 370.9 139.83 366.69 141.67 362.07 143.58 357.24 145.9 352.4 148.86 347.42 152.22 342.26 155.67 337.21 158.9 332.6 161.71 328.52 164.32 324.81 166.99 321.35 170 318 173.62 314.79 177.64 311.77 181.62 308.87 185.1 306 187.86 303.15 190.18 300.35 192.36 297.63 194.7 295 197.24 292.54 199.84 290.21 202.52 287.88 205.3 285.4 208.05 282.94 210.81 280.49 213.84 277.71 217.4 274.2 221.89 269.4 227.07 263.66 232.21 258.02 236.6 253.5 239.96 250.53 242.71 248.51 245.15 246.93 247.6 245.3 250.08 243.6 252.44 242.06 254.75 240.54 257.1 238.9 259.42 237.13 261.7 235.29 264.08 233.36 266.7 231.3 269.58 229.12 272.65 226.83 275.92 224.4 279.4 221.8 283.21 218.94 287.3 215.86 291.44 212.75 295.4 209.8 299.13 207.03 302.75 204.34 306.27 201.79 309.7 199.4 313.13 197.18 316.53 195.1 319.71 193.2 322.5 191.5 324.67 190.16 326.38 189.12 328.02 188.07 330 186.7 332.4 184.88 335.02 182.8 337.8 180.62 340.7 178.5 343.72 176.48 346.87 174.48 350.15 172.49 353.5 170.5 356.97 168.56 360.55 166.65 364.18 164.69 367.8 162.6 371.41 160.32 375.03 157.9 378.64 155.43 382.2 153 385.72 150.52 389.21 147.98 392.64 145.58 396 143.5 399.18 141.95 402.21 140.79 405.32 139.65 408.7 138.2 412.55 136.28 416.7 134.09 420.85 131.83 424.7 129.7 428.11 127.74 431.26 125.84 434.31 124 437.4 122.2 440.57 120.46 443.74 118.79 446.89 117.14 450 115.5 452.76 114.04 455.29 112.71 458.17 111.15 462 109 467.35 105.86 473.76 102.02 480.29 98.17 486 95 490.54 92.81 494.45 91.19 498.11 89.78 501.9 88.2 505.98 86.32 510.14 84.36 514.17 82.44 517.9 80.7 521.07 79.27 523.84 78.06 526.67 76.84 530 75.4 534.17 73.61 538.86 71.61 543.57 69.61 547.8 67.8 551.45 66.21 554.76 64.74 557.8 63.43 560.6 62.3 563.29 61.36 565.8 60.61 567.91 60.02 569.4 59.6" stroke="#008000" stroke-dasharray="12.5 5.45" stroke-dashoffset="0.00"/><path d="M569.4 59.6 831.5 9.3" stroke="#008000" stroke-dasharray="12.5 5.45" stroke-dashoffset="14.20"/><path d="M81.8 495.5 89 489 95.5 478 101.5 466 107.8 452.9 112.7 444.1 117.6 438.3 123 428.5 129.3 419.8 137.1 407.1 146.8 394.4 159.5 378.8 174.9 362.3 195.1 343.2 218.5 322.9 248.8 299.5 287 274 331.8 248 380.3 222.6 423.1 202.6 451.2 189.4 469.3 179.5 481.7 169.6 491.6 160.5 500.7 152.3 510.5 141 519.5 131 527.5 122 534.7 112 537.7 106 541.7 99.5 547.3 89.5 554 79.5 560.6 69.5 567.4 59.5 572.5 51.5 577 44 581 36.5 584.8 28.9 590.7 19.5" stroke="#000000" stroke-dasharray="12.5 5.45" stroke-dashoffset="0.00"/><path d="M590.7 19.5 831.5 9.3" stroke="#000000" stroke-dasharray="12.5 5.45" stroke-dashoffset="15.40"/></g>
</g>
<g stroke="#000" stroke-width="1.78" fill="none" stroke-linecap="butt">
<rect x="81.8" y="9.0" width="749.7" height="486.5"/><path d="M81.8 495.5V503.28M81.8 495.5H74.02"/><path d="M231.74 495.5V503.28M81.8 398.2H74.02"/><path d="M381.68 495.5V503.28M81.8 300.9H74.02"/><path d="M531.62 495.5V503.28M81.8 203.6H74.02"/><path d="M681.56 495.5V503.28M81.8 106.3H74.02"/><path d="M831.5 495.5V503.28M81.8 9H74.02"/>
</g>
<g font-size="23.4" fill="#000"><text x="81.8" y="528.1" text-anchor="middle" textLength="34.6" lengthAdjust="spacingAndGlyphs">0.0</text><text x="64.5" y="503.8" text-anchor="end" textLength="33.6" lengthAdjust="spacingAndGlyphs">0.0</text><text x="231.74" y="528.1" text-anchor="middle" textLength="34.6" lengthAdjust="spacingAndGlyphs">0.2</text><text x="64.5" y="406.5" text-anchor="end" textLength="33.6" lengthAdjust="spacingAndGlyphs">0.2</text><text x="381.68" y="528.1" text-anchor="middle" textLength="34.6" lengthAdjust="spacingAndGlyphs">0.4</text><text x="64.5" y="309.2" text-anchor="end" textLength="33.6" lengthAdjust="spacingAndGlyphs">0.4</text><text x="531.62" y="528.1" text-anchor="middle" textLength="34.6" lengthAdjust="spacingAndGlyphs">0.6</text><text x="64.5" y="211.9" text-anchor="end" textLength="33.6" lengthAdjust="spacingAndGlyphs">0.6</text><text x="681.56" y="528.1" text-anchor="middle" textLength="34.6" lengthAdjust="spacingAndGlyphs">0.8</text><text x="64.5" y="114.6" text-anchor="end" textLength="33.6" lengthAdjust="spacingAndGlyphs">0.8</text><text x="831.5" y="528.1" text-anchor="middle" textLength="34.6" lengthAdjust="spacingAndGlyphs">1.0</text><text x="64.5" y="17.3" text-anchor="end" textLength="33.6" lengthAdjust="spacingAndGlyphs">1.0</text></g>
<g font-size="23" fill="#000"><rect x="600.4" y="214" width="219.4" height="269.8" rx="4" fill="#fff" fill-opacity="0.8" stroke="#d6d6d6" stroke-width="1.78"/><path d="M609.7 232.25H654.4" stroke="#0000ff" stroke-width="3.39" stroke-linecap="square"/><text x="672.1" y="240.15" textLength="46.0" lengthAdjust="spacingAndGlyphs">CBV</text><path d="M609.7 265.25H654.4" stroke="#ff0000" stroke-width="3.39" stroke-linecap="square"/><text x="672.1" y="273.15" textLength="46.0" lengthAdjust="spacingAndGlyphs">MTT</text><path d="M609.7 298.25H654.4" stroke="#008000" stroke-width="3.39" stroke-linecap="square"/><text x="672.1" y="306.15" textLength="43.0" lengthAdjust="spacingAndGlyphs">CBF</text><path d="M609.7 331.25H654.4" stroke="#000000" stroke-width="3.39" stroke-linecap="square"/><text x="672.1" y="339.15" textLength="41.8" lengthAdjust="spacingAndGlyphs">TTP</text><path d="M609.7 364.25H654.4" stroke="#0000ff" stroke-width="3.39" stroke-dasharray="12.5 5.45"/><text x="672.1" y="372.15" textLength="138.6" lengthAdjust="spacingAndGlyphs">CBV relative</text><path d="M609.7 397.25H654.4" stroke="#ff0000" stroke-width="3.39" stroke-dasharray="12.5 5.45"/><text x="672.1" y="405.15" textLength="139.4" lengthAdjust="spacingAndGlyphs">MTT relative</text><path d="M609.7 430.25H654.4" stroke="#008000" stroke-width="3.39" stroke-dasharray="12.5 5.45"/><text x="672.1" y="438.15" textLength="136.6" lengthAdjust="spacingAndGlyphs">CBF relative</text><path d="M609.7 463.25H654.4" stroke="#000000" stroke-width="3.39" stroke-dasharray="12.5 5.45"/><text x="672.1" y="471.15" textLength="133.0" lengthAdjust="spacingAndGlyphs">TTP relative</text></g>
<text x="390.4" y="558.6" font-size="23" textLength="131.8" lengthAdjust="spacingAndGlyphs">1-specificity</text>
<text transform="translate(17.2,309.2) rotate(-90)" font-size="23" textLength="111.8" lengthAdjust="spacingAndGlyphs">sensitivity</text>
</svg>
</body></html>
